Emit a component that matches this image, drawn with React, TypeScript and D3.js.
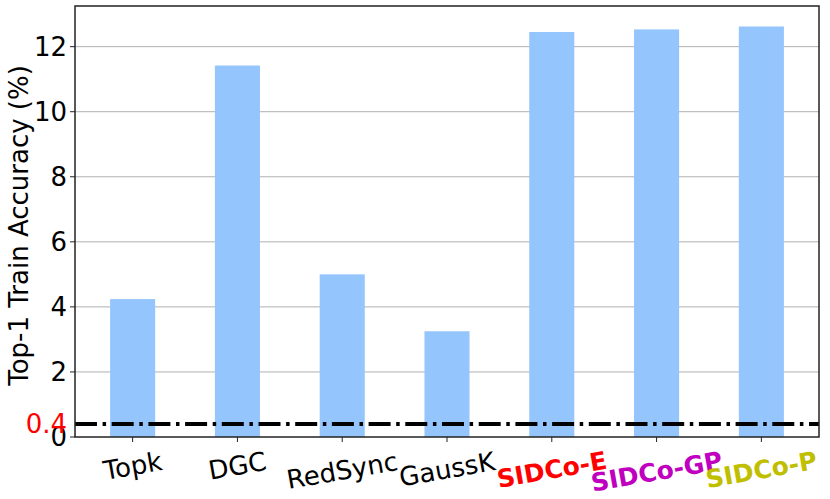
import React, { useEffect, useRef } from "react";
import * as d3 from "d3";

const width = 830;
const height = 499;
const margin = { top: 6, right: 11, bottom: 62, left: 75 };

const methods = ["Topk", "DGC", "RedSync", "GaussK", "SIDCo-E", "SIDCo-GP", "SIDCo-P"];
const accuracy = [4.24, 11.42, 5.0, 3.25, 12.45, 12.53, 12.62];
const labelColors = ["black", "black", "black", "black", "#ff0000", "#bf00bf", "#bfbf00"];
const yTicks = [0, 2, 4, 6, 8, 10, 12];
const baseline = 0.4;

const Chart = () => {
  const ref = useRef<SVGSVGElement>(null);

  useEffect(() => {
    const svg = d3.select(ref.current);
    svg.selectAll("*").remove();
    const innerW = width - margin.left - margin.right;
    const innerH = height - margin.top - margin.bottom;

    const x = d3.scaleLinear().domain([-0.55, methods.length - 1 + 0.55]).range([0, innerW]);
    const y = d3.scaleLinear().domain([0, 13.25]).range([innerH, 0]);
    const barW = x(0.43) - x(0);

    const g = svg.append("g").attr("transform", `translate(${margin.left},${margin.top})`);

    // grid
    g.selectAll(".grid")
      .data(yTicks.slice(1))
      .join("line")
      .attr("x1", 0)
      .attr("x2", innerW)
      .attr("y1", (d) => y(d))
      .attr("y2", (d) => y(d))
      .attr("stroke", "#b0b0b0")
      .attr("stroke-width", 1);

    // bars
    g.selectAll(".bar")
      .data(accuracy)
      .join("rect")
      .attr("x", (d, i) => x(i) - barW / 2)
      .attr("y", (d) => y(d))
      .attr("width", barW)
      .attr("height", (d) => y(0) - y(d))
      .attr("fill", "#94c5fd");

    // baseline
    g.append("line")
      .attr("x1", 0)
      .attr("x2", innerW)
      .attr("y1", y(baseline))
      .attr("y2", y(baseline))
      .attr("stroke", "black")
      .attr("stroke-width", 4)
      .attr("stroke-dasharray", "22,5.6,3.5,5.6");

    // frame
    g.append("rect")
      .attr("width", innerW)
      .attr("height", innerH)
      .attr("fill", "none")
      .attr("stroke", "#222")
      .attr("stroke-width", 1.5);

    // y ticks
    const yAxis = g.append("g");
    yTicks.forEach((t) => {
      yAxis.append("line")
        .attr("x1", -5).attr("x2", 0)
        .attr("y1", y(t)).attr("y2", y(t))
        .attr("stroke", "#222");
      yAxis.append("text")
        .attr("x", -8)
        .attr("y", y(t))
        .attr("dy", "0.36em")
        .attr("text-anchor", "end")
        .attr("font-size", 26)
        .text(t);
    });
    yAxis.append("text")
      .attr("x", -8)
      .attr("y", y(baseline))
      .attr("dy", "0.36em")
      .attr("text-anchor", "end")
      .attr("font-size", 26)
      .attr("fill", "red")
      .text(baseline);

    // x ticks + rotated labels
    methods.forEach((m, i) => {
      g.append("line")
        .attr("x1", x(i)).attr("x2", x(i))
        .attr("y1", innerH).attr("y2", innerH + 5)
        .attr("stroke", "#222");
      const lg = g.append("g").attr("transform", `translate(${x(i)},0)`);
      lg.append("text")
        .attr("text-anchor", "middle")
        .attr("dy", "0.35em")
        .attr("transform", "rotate(-10)")
        .attr("font-size", i >= 4 ? 25 : 26)
        .attr("font-weight", i >= 4 ? "bold" : "normal")
        .attr("fill", labelColors[i])
        .text(m);
      const bb = (lg.node() as SVGGElement).getBBox();
      lg.attr("transform", `translate(${x(i)},${innerH + 9 - bb.y})`);
    });

    // y label
    svg.append("text")
      .attr("transform", `translate(19,${margin.top + innerH / 2 + 4}) rotate(-90)`)
      .attr("text-anchor", "middle")
      .attr("dy", "0.35em")
      .attr("font-size", 26)
      .text("Top-1 Train Accuracy (%)");
  }, []);

  return (
    <svg
      ref={ref}
      width={width}
      height={height}
      style={{ display: "block", fontFamily: "'DejaVu Sans', sans-serif" }}
    />
  );
};

export default function App() {
  return (
    <div style={{ position: "absolute", left: 0, top: 0 }}>
      <Chart />
    </div>
  );
}
